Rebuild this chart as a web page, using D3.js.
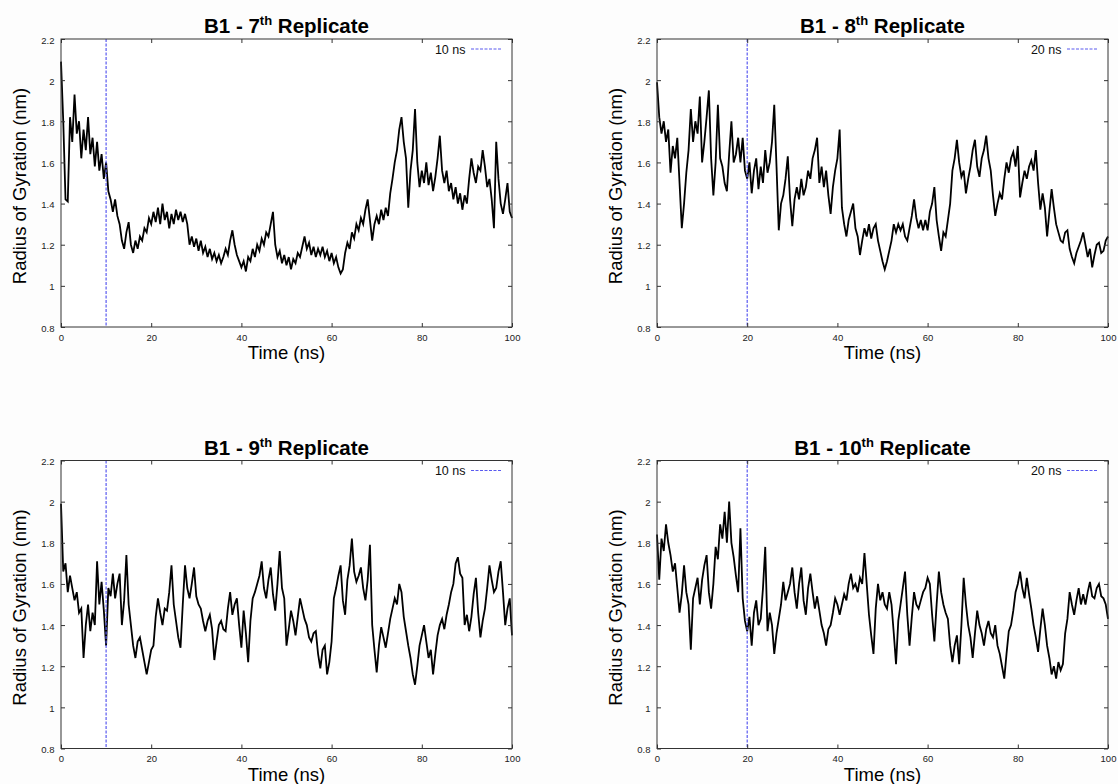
<!DOCTYPE html>
<html>
<head>
<meta charset="utf-8">
<script src="https://cdn.jsdelivr.net/npm/d3@7"></script>
<style>
  body { margin: 0; background: #fdfdfd; }
  svg { display: block; font-family: "Liberation Sans", Arial, sans-serif; }
</style>
</head>
<body>
<div id="chart"></div>
<script>
// Radius of gyration (nm), one value every 0.5 ns from 0 to 100 ns
const STEP_NS = 0.5

const rg7 = [2.09,1.80,1.42,1.41,1.82,1.70,1.93,1.74,1.80,1.62,
  1.76,1.66,1.82,1.64,1.72,1.58,1.70,1.56,1.64,1.52,
  1.60,1.46,1.42,1.36,1.42,1.34,1.30,1.22,1.18,1.26,
  1.31,1.20,1.16,1.22,1.18,1.24,1.22,1.28,1.26,1.33,
  1.30,1.36,1.31,1.38,1.30,1.40,1.32,1.36,1.28,1.35,
  1.30,1.37,1.32,1.36,1.31,1.35,1.30,1.20,1.24,1.19,
  1.23,1.17,1.22,1.16,1.19,1.14,1.18,1.13,1.16,1.12,
  1.15,1.11,1.14,1.18,1.15,1.22,1.27,1.20,1.15,1.12,
  1.09,1.12,1.07,1.14,1.12,1.18,1.14,1.20,1.17,1.23,
  1.20,1.26,1.24,1.30,1.36,1.20,1.14,1.17,1.11,1.15,
  1.10,1.14,1.08,1.13,1.11,1.16,1.14,1.19,1.24,1.18,
  1.21,1.15,1.19,1.14,1.18,1.15,1.19,1.14,1.17,1.12,
  1.16,1.11,1.14,1.09,1.06,1.08,1.16,1.21,1.18,1.26,
  1.23,1.30,1.27,1.33,1.30,1.37,1.42,1.32,1.22,1.30,
  1.34,1.30,1.37,1.32,1.38,1.34,1.45,1.52,1.60,1.66,
  1.76,1.82,1.70,1.62,1.38,1.56,1.66,1.86,1.60,1.48,
  1.56,1.50,1.60,1.49,1.55,1.46,1.53,1.62,1.73,1.56,
  1.50,1.56,1.46,1.50,1.42,1.48,1.40,1.45,1.37,1.44,
  1.40,1.52,1.62,1.55,1.50,1.58,1.56,1.66,1.58,1.48,
  1.52,1.42,1.28,1.70,1.52,1.40,1.35,1.42,1.50,1.36,
  1.33]

const rg8 = [1.99,1.82,1.74,1.80,1.70,1.76,1.55,1.68,1.62,1.72,
  1.50,1.28,1.40,1.55,1.66,1.86,1.70,1.80,1.74,1.92,
  1.60,1.70,1.82,1.95,1.62,1.44,1.60,1.88,1.62,1.58,
  1.50,1.46,1.64,1.80,1.60,1.64,1.72,1.60,1.72,1.56,
  1.52,1.60,1.45,1.56,1.62,1.47,1.58,1.50,1.66,1.55,
  1.60,1.70,1.88,1.58,1.27,1.40,1.44,1.52,1.63,1.42,
  1.29,1.42,1.48,1.42,1.52,1.44,1.48,1.56,1.52,1.62,
  1.66,1.72,1.50,1.58,1.48,1.56,1.44,1.35,1.48,1.56,
  1.62,1.76,1.38,1.30,1.24,1.32,1.36,1.40,1.28,1.24,
  1.15,1.22,1.28,1.24,1.30,1.23,1.28,1.30,1.22,1.17,
  1.12,1.08,1.12,1.17,1.22,1.30,1.26,1.30,1.27,1.30,
  1.24,1.22,1.28,1.34,1.42,1.33,1.28,1.32,1.27,1.32,
  1.27,1.36,1.40,1.48,1.32,1.24,1.17,1.26,1.24,1.32,
  1.40,1.56,1.62,1.71,1.60,1.53,1.56,1.45,1.52,1.58,
  1.66,1.71,1.58,1.53,1.62,1.66,1.73,1.62,1.56,1.44,
  1.34,1.40,1.45,1.42,1.52,1.60,1.55,1.62,1.65,1.58,
  1.68,1.43,1.50,1.56,1.52,1.58,1.61,1.56,1.66,1.50,
  1.37,1.45,1.38,1.24,1.36,1.47,1.38,1.30,1.26,1.22,
  1.21,1.26,1.27,1.18,1.14,1.11,1.16,1.19,1.22,1.26,
  1.20,1.14,1.18,1.09,1.15,1.20,1.21,1.16,1.17,1.22,
  1.24]

const rg9 = [1.99,1.66,1.70,1.56,1.64,1.58,1.52,1.56,1.46,1.48,
  1.24,1.40,1.50,1.37,1.46,1.40,1.71,1.50,1.61,1.47,
  1.30,1.58,1.54,1.65,1.53,1.60,1.65,1.40,1.52,1.74,
  1.50,1.40,1.30,1.24,1.32,1.34,1.28,1.22,1.16,1.22,
  1.28,1.30,1.44,1.53,1.46,1.40,1.48,1.47,1.56,1.69,
  1.50,1.42,1.34,1.29,1.50,1.69,1.58,1.53,1.60,1.68,
  1.54,1.50,1.48,1.42,1.37,1.42,1.45,1.38,1.23,1.32,
  1.40,1.42,1.38,1.37,1.48,1.56,1.45,1.50,1.53,1.40,
  1.29,1.47,1.36,1.22,1.42,1.53,1.56,1.60,1.64,1.71,
  1.58,1.53,1.62,1.68,1.55,1.47,1.60,1.76,1.58,1.53,
  1.30,1.38,1.47,1.42,1.35,1.44,1.53,1.48,1.43,1.40,
  1.34,1.32,1.36,1.37,1.26,1.19,1.28,1.30,1.16,1.22,
  1.32,1.53,1.58,1.64,1.69,1.52,1.45,1.62,1.69,1.82,
  1.66,1.61,1.64,1.68,1.58,1.52,1.62,1.79,1.40,1.28,
  1.17,1.30,1.39,1.34,1.29,1.36,1.43,1.48,1.53,1.50,
  1.60,1.56,1.44,1.37,1.30,1.24,1.16,1.11,1.20,1.30,
  1.35,1.40,1.32,1.24,1.28,1.16,1.26,1.35,1.40,1.43,
  1.38,1.45,1.50,1.56,1.60,1.70,1.73,1.65,1.63,1.40,
  1.45,1.37,1.44,1.55,1.63,1.46,1.34,1.42,1.48,1.58,
  1.69,1.62,1.56,1.58,1.66,1.71,1.56,1.40,1.48,1.53,
  1.35]

const rg10 = [1.84,1.62,1.82,1.76,1.89,1.80,1.74,1.66,1.70,1.58,
  1.46,1.55,1.69,1.56,1.50,1.28,1.53,1.58,1.63,1.50,
  1.62,1.69,1.74,1.56,1.48,1.60,1.78,1.72,1.89,1.82,
  1.95,1.80,2.00,1.80,1.73,1.64,1.56,1.87,1.53,1.42,
  1.37,1.44,1.30,1.46,1.52,1.40,1.43,1.58,1.78,1.37,
  1.46,1.40,1.26,1.36,1.43,1.50,1.61,1.52,1.56,1.60,
  1.68,1.56,1.48,1.60,1.68,1.52,1.45,1.58,1.65,1.56,
  1.48,1.54,1.47,1.40,1.36,1.30,1.38,1.40,1.46,1.53,
  1.50,1.45,1.50,1.55,1.52,1.60,1.65,1.58,1.60,1.56,
  1.63,1.60,1.75,1.60,1.45,1.35,1.26,1.48,1.60,1.52,
  1.56,1.50,1.48,1.56,1.50,1.36,1.21,1.42,1.50,1.58,
  1.66,1.45,1.30,1.44,1.56,1.50,1.48,1.52,1.56,1.58,
  1.63,1.60,1.45,1.32,1.50,1.66,1.56,1.50,1.46,1.43,
  1.30,1.22,1.30,1.35,1.21,1.40,1.63,1.50,1.40,1.34,
  1.24,1.36,1.47,1.40,1.36,1.30,1.38,1.42,1.36,1.34,
  1.40,1.30,1.26,1.20,1.14,1.26,1.37,1.40,1.47,1.56,
  1.60,1.66,1.58,1.53,1.63,1.55,1.48,1.40,1.34,1.27,
  1.38,1.48,1.40,1.30,1.24,1.16,1.20,1.14,1.22,1.18,
  1.21,1.36,1.43,1.56,1.50,1.45,1.52,1.58,1.50,1.55,
  1.50,1.56,1.61,1.54,1.53,1.58,1.60,1.54,1.53,1.50,
  1.43]

const series = [rg7, rg8, rg9, rg10]
const ordinals = ["7", "8", "9", "10"]
const markers = [10, 20, 10, 20]          // equilibration cut (ns)
const legendLabels = ["10 ns", "20 ns", "10 ns", "20 ns"]
const xTicks = [0, 20, 40, 60, 80, 100]
const yTicks = [0.8, 1.0, 1.2, 1.4, 1.6, 1.8, 2.0, 2.2]

const W = 1118, H = 784
const PW = 451, PH = 288
const origins = [[61, 39], [657, 39], [61, 460.5], [657, 460.5]]

const svg = d3.select("#chart").append("svg")
  .attr("width", W)
  .attr("height", H)

svg.append("rect").attr("width", W).attr("height", H).attr("fill", "#fdfdfd")

const fmt = d => String(+d.toFixed(1))

series.forEach((values, i) => {
  const [left, top] = origins[i]
  const g = svg.append("g").attr("transform", `translate(${left}, ${top})`)

  const x = d3.scaleLinear().domain([0, 100]).range([0, PW])
  const y = d3.scaleLinear().domain([0.8, 2.2]).range([PH, 0])

  // white plot area
  g.append("rect").attr("width", PW).attr("height", PH).attr("fill", "#fff")

  // trace
  const line = d3.line()
    .x((d, j) => x(j * STEP_NS))
    .y(d => y(d))
  g.append("path")
    .datum(values)
    .attr("d", line)
    .attr("fill", "none")
    .attr("stroke", "#000")
    .attr("stroke-width", 1.8)
    .attr("stroke-linejoin", "miter")

  // dashed marker line
  g.append("line")
    .attr("x1", x(markers[i])).attr("x2", x(markers[i]))
    .attr("y1", 0).attr("y2", PH)
    .attr("stroke", "#5a5af0")
    .attr("stroke-width", 1.2)
    .attr("stroke-dasharray", "3,1.5")

  // axes with inward ticks on all sides
  const axes = [
    [d3.axisBottom(x).tickValues(xTicks).tickFormat(fmt).tickPadding(7), `translate(0, ${PH})`, false],
    [d3.axisTop(x).tickValues(xTicks).tickFormat(""), "translate(0, 0)", false],
    [d3.axisLeft(y).tickValues(yTicks).tickFormat(fmt).tickPadding(6.5), "translate(0, 0)", true],
    [d3.axisRight(y).tickValues(yTicks).tickFormat(""), `translate(${PW}, 0)`, true]
  ]
  axes.forEach(([ax, tr, vertical]) => {
    const a = g.append("g")
      .attr("transform", tr)
      .call(ax.tickSizeInner(-4).tickSizeOuter(0))
    a.select(".domain").remove()
    a.selectAll("line").attr("stroke", "#333")
    const t = a.selectAll("text")
      .attr("fill", "#222")
      .attr("font-size", "9.5px")
      .attr("font-family", "Liberation Sans, Arial, sans-serif")
    if (vertical) t.attr("dy", "0.42em")
  })

  // frame
  g.append("rect")
    .attr("width", PW).attr("height", PH)
    .attr("fill", "none")
    .attr("stroke", "#333")
    .attr("stroke-width", 1)

  // legend
  const lx2 = PW - 11, lx1 = lx2 - 30, ly = 10
  g.append("line")
    .attr("x1", lx1).attr("x2", lx2)
    .attr("y1", ly).attr("y2", ly)
    .attr("stroke", "#5a5af0")
    .attr("stroke-width", 1.2)
    .attr("stroke-dasharray", "3,1.5")
  g.append("text")
    .attr("x", lx1 - 5.5)
    .attr("y", ly + 4.5)
    .attr("text-anchor", "end")
    .attr("font-size", "12.5px")
    .attr("fill", "#111")
    .text(legendLabels[i])

  // title
  const title = g.append("text")
    .attr("x", PW / 2)
    .attr("y", -6)
    .attr("text-anchor", "middle")
    .attr("font-size", "20.5px")
    .attr("font-weight", "bold")
    .attr("fill", "#000")
  title.append("tspan").text(`B1 - ${ordinals[i]}`)
  title.append("tspan").attr("dy", -8).attr("font-size", "13px").text("th")
  title.append("tspan").attr("dy", 8).text(" Replicate")

  // axis labels
  g.append("text")
    .attr("x", PW / 2)
    .attr("y", PH + 32)
    .attr("text-anchor", "middle")
    .attr("font-size", "18.5px")
    .attr("fill", "#000")
    .text("Time (ns)")

  g.append("text")
    .attr("transform", `translate(-35.5, ${PH / 2 + 3}) rotate(-90)`)
    .attr("text-anchor", "middle")
    .attr("font-size", "18.5px")
    .attr("fill", "#000")
    .text("Radius of Gyration (nm)")
})
</script>
</body>
</html>
